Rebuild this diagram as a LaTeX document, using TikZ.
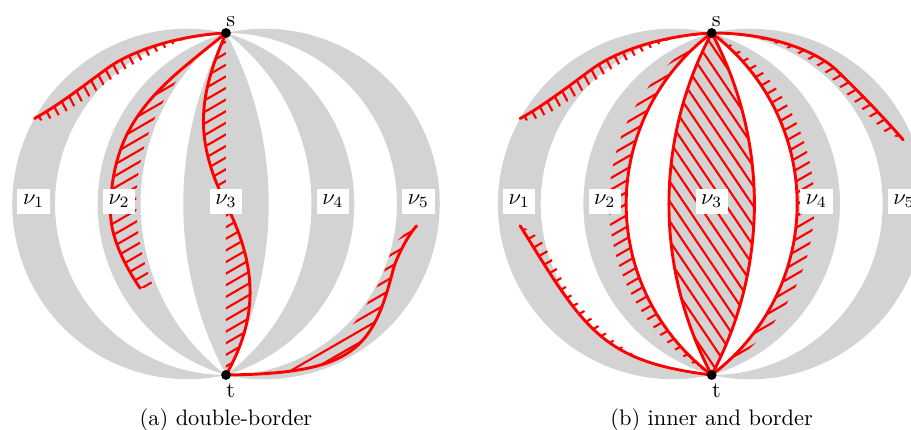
\documentclass[tikz,border=0pt]{standalone}
\definecolor{lunegray}{RGB}{211,211,211}
\tikzset{
  redcurve/.style={draw=red, line width=1.3pt, line cap=round, line join=round},
  hatchline/.style={draw=red, line width=0.95pt},
  lune/.style={fill=lunegray},
  nulabel/.style={fill=white, inner sep=2.5pt},
  dotnode/.style={circle, fill=black, inner sep=0pt, minimum size=4.4pt},
  plainlabel/.style={inner sep=0pt},
}
\newcommand{\myhatch}[3]{%
  \begin{scope}[shift={#3},rotate=#1]
    \foreach \k in {-40,...,40}{\draw[hatchline] (-9,\k*#2) -- (9,\k*#2);}
  \end{scope}}
% curves (relative to panel centre, unit = gap between lune borders)
\newcommand{\cOneTop}{(0,4) .. controls (-1.0,3.95) and (-2.13,3.64) .. (-2.78,3.17) .. controls (-3.266,2.816) and (-3.952,2.282) .. (-4.48,2.0)}
\newcommand{\cOneTopFar}{-- plot[smooth] coordinates {(-4.35,1.95) (-4.1,2.0) (-3.8,2.13) (-3.5,2.32) (-3.2,2.52) (-2.9,2.76) (-2.6,2.98) (-2.3,3.19) (-2.0,3.36) (-1.75,3.50) (-1.5,3.62) (-1.12,3.79) (-0.8,3.91)}}
\newcommand{\cTwoA}{(0,4) .. controls (-1.48,2.80) and (-2.70,2.0) .. (-2.70,-0.2) .. controls (-2.70,-0.8) and (-2.346,-1.472) .. (-2.01,-1.97)}
\newcommand{\cThreeA}{(0,4) .. controls (-0.6,2.6) and (-0.8,1.6) .. (0,0) .. controls (0.7,-1.4) and (0.8,-2.6) .. (0,-4)}
\newcommand{\cFiveA}{(0,-4) .. controls (3.0,-3.97) and (3.435,-3.383) .. (3.91,-1.54) .. controls (3.985,-1.25) and (4.256,-0.729) .. (4.46,-0.51)}
\newcommand{\cFiveAFar}{-- plot[smooth] coordinates {(4.19,-0.68) (3.93,-0.96) (3.79,-1.31) (3.65,-1.71) (3.42,-2.13) (3.09,-2.67) (2.78,-2.99) (2.20,-3.38) (1.34,-3.90)}}
\newcommand{\cOneBot}{(0,-4) .. controls (-2.6,-3.69) and (-3.0,-2.89) .. (-4.48,-0.51)}
\newcommand{\cOneBotFar}{-- plot[smooth] coordinates {(-4.3,-0.6) (-3.98,-0.88) (-3.67,-1.43) (-3.38,-1.99) (-3.11,-2.35) (-2.67,-2.83) (-2.24,-3.24) (-1.80,-3.53) (-1.28,-3.75) (-0.8,-3.87)}}
\newcommand{\cFiveB}{(0,4) .. controls (1.6,4.0) and (2.6,3.45) .. (2.92,3.13) .. controls (3.35,2.72) and (4.05,2.0) .. (4.48,1.50)}
\newcommand{\cFiveBFar}{-- plot[smooth] coordinates {(4.32,1.57) (4.06,1.68) (3.78,1.96) (3.47,2.27) (3.15,2.58) (2.77,2.97) (2.48,3.23) (2.14,3.46) (1.64,3.71) (0.9,3.92)}}
% gray lunes
\newcommand{\lunes}{%
  \fill[lune] (0,4) arc[start angle=77.32, end angle=282.68, radius=4.1] arc[start angle=270, end angle=90, radius=4] -- cycle;
  \fill[lune] (0,4) arc[start angle=106.26, end angle=253.74, radius=4.16667] arc[start angle=233.13, end angle=126.87, radius=5] -- cycle;
  \fill[lune] (0,4) arc[start angle=28.07, end angle=-28.07, radius=8.5] arc[start angle=208.07, end angle=151.93, radius=8.5] -- cycle;
  \fill[lune] (0,4) arc[start angle=53.13, end angle=-53.13, radius=5] arc[start angle=-73.74, end angle=73.74, radius=4.16667] -- cycle;
  \fill[lune] (0,4) arc[start angle=90, end angle=-90, radius=4] arc[start angle=-102.68, end angle=102.68, radius=4.1] -- cycle;
}
\begin{document}
\begin{tikzpicture}[x=19.08pt,y=19.08pt]
\useasboundingbox (-5.2865,-5.2865) rectangle (16.0235,4.7715);
\clip (-5.2865,-5.2865) rectangle (16.0235,4.7715);
% ---------------- panel (a)
\begin{scope}
  \lunes
  \begin{scope}
    \clip \cOneTop \cOneTopFar -- cycle;
    \myhatch{-62}{0.21}{(-2.5,3)}
  \end{scope}
  \begin{scope}
    \clip \cTwoA -- (-1.683,-1.97) arc[start angle=203.92, end angle=124.60, radius=4.8595] -- cycle;
    \myhatch{30}{0.235}{(-2,1)}
  \end{scope}
  \begin{scope}
    \clip \cThreeA -- cycle;
    \myhatch{30}{0.235}{(0,0)}
  \end{scope}
  \begin{scope}
    \clip \cFiveA \cFiveAFar -- cycle;
    \myhatch{30}{0.235}{(3,-2.5)}
  \end{scope}
  \draw[redcurve] \cOneTop;
  \draw[redcurve] \cTwoA;
  \draw[redcurve] \cThreeA;
  \draw[redcurve] \cFiveA;
  \node[nulabel] (a1) at (-4.5,0.06) {$\nu_1$};
  \node[nulabel] (a2) at (-2.5,0.06) {$\nu_2$};
  \node[nulabel] (a3) at (0,0.06) {$\nu_3$};
  \node[nulabel] (a4) at (2.5,0.06) {$\nu_4$};
  \node[nulabel] (a5) at (4.5,0.06) {$\nu_5$};
  \node[dotnode] (sa) at (0,4) {};
  \node[dotnode] (ta) at (0,-4) {};
  \node[plainlabel] (sla) at (0.11,4.26) {s};
  \node[plainlabel] (tla) at (0.11,-4.37) {t};
  \node[plainlabel] (capa) at (0,-5.05) {(a) double-border};
\end{scope}
% ---------------- panel (b)
\begin{scope}[shift={(11.361,0)}]
  \lunes
  \begin{scope}
    \clip \cOneTop \cOneTopFar -- cycle;
    \myhatch{-62}{0.21}{(-2.5,3)}
  \end{scope}
  \begin{scope}
    \clip \cOneBot \cOneBotFar -- cycle;
    \myhatch{30}{0.235}{(-2.5,-2.5)}
  \end{scope}
  \begin{scope}
    \clip (0,4) arc[start angle=118.07, end angle=241.93, radius=4.5333] arc[start angle=233.13, end angle=126.87, radius=5] -- cycle;
    \myhatch{30}{0.235}{(-2,0)}
  \end{scope}
  \begin{scope}
    \clip (0,4) arc[start angle=28.07, end angle=-28.07, radius=8.5] arc[start angle=208.07, end angle=151.93, radius=8.5] -- cycle;
    \myhatch{-56}{0.26}{(0,0)}
  \end{scope}
  \begin{scope}
    \clip (0,4) arc[start angle=61.93, end angle=-61.93, radius=4.5333] arc[start angle=-53.13, end angle=53.13, radius=5] -- cycle;
    \myhatch{30}{0.235}{(2,0)}
  \end{scope}
  \begin{scope}
    \clip \cFiveB \cFiveBFar -- cycle;
    \myhatch{30}{0.235}{(3,3)}
  \end{scope}
  \draw[redcurve] \cOneTop;
  \draw[redcurve] \cOneBot;
  \draw[redcurve] (0,4) arc[start angle=126.87, end angle=233.13, radius=5];
  \draw[redcurve] (0,4) arc[start angle=28.07, end angle=-28.07, radius=8.5] arc[start angle=208.07, end angle=151.93, radius=8.5] -- cycle;
  \draw[redcurve] (0,4) arc[start angle=53.13, end angle=-53.13, radius=5];
  \draw[redcurve] \cFiveB;
  \node[nulabel] (b1) at (-4.5,0.06) {$\nu_1$};
  \node[nulabel] (b2) at (-2.5,0.06) {$\nu_2$};
  \node[nulabel] (b3) at (0,0.06) {$\nu_3$};
  \node[nulabel] (b4) at (2.45,0.06) {$\nu_4$};
  \node[nulabel] (b5) at (4.5,0.06) {$\nu_5$};
  \node[dotnode] (sb) at (0,4) {};
  \node[dotnode] (tb) at (0,-4) {};
  \node[plainlabel] (slb) at (0.11,4.26) {s};
  \node[plainlabel] (tlb) at (0.11,-4.37) {t};
  \node[plainlabel] (capb) at (0,-5.05) {(b) inner and border};
\end{scope}
\end{tikzpicture}
\end{document}
